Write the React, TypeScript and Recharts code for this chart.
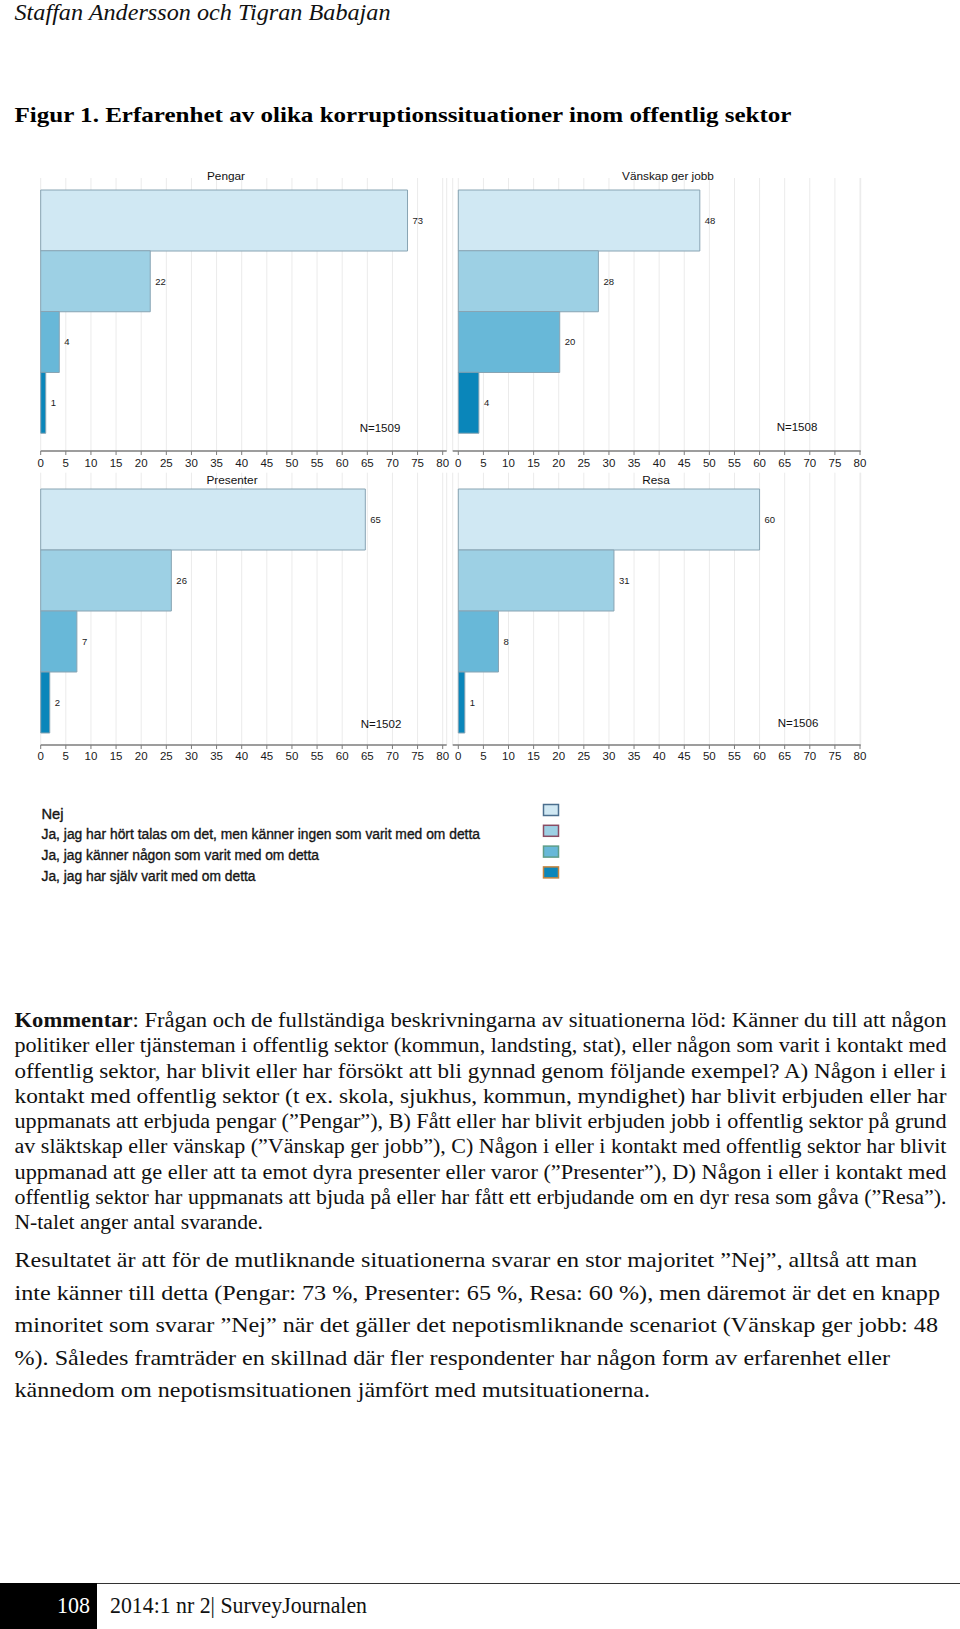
import React from 'react';
import { BarChart, Bar, XAxis, YAxis, CartesianGrid, Cell, LabelList } from 'recharts';

// answer categories (same order in every panel)
const categories = [
  'Nej',
  'Ja, jag har hört talas om det, men känner ingen som varit med om detta',
  'Ja, jag känner någon som varit med om detta',
  'Ja, jag har själv varit med om detta',
];

// percent per category
const pengar = [73.0, 21.8, 3.7, 1.0];
const vanskap = [48.1, 27.9, 20.2, 4.1];
const presenter = [64.6, 26.0, 7.2, 1.8];
const resa = [60.0, 31.0, 8.0, 1.3];

const panelTitles = ['Pengar', 'Vänskap ger jobb', 'Presenter', 'Resa'];
const panelN = [1509, 1508, 1502, 1506];

const xTicks = [0, 5, 10, 15, 20, 25, 30, 35, 40, 45, 50, 55, 60, 65, 70, 75, 80];

const barColors = ['#d0e8f3', '#9dd0e4', '#68b8d8', '#0a86ba'];
const legendBorders = ['#4b6f8e', '#8a4c63', '#5f9d88', '#c5853f'];

const serif = "'Liberation Serif', 'Times New Roman', Times, serif";
const sans = "'Liberation Sans', Arial, Helvetica, sans-serif";

type PanelLayout = {
  left: number;
  top: number;
  margin: { top: number; right: number; bottom: number; left: number };
  xh: number;
  tm: number;
  xPad: { left: number; right: number };
  yPad: { top: number; bottom: number };
  titleX: number;
  titleY: number;
  nX: number;
  nY: number;
};

const leftM = { top: 18, right: 13.3, bottom: 0, left: 40.7 };
const rightM = { top: 18, right: 19.3, bottom: 0, left: 32.7 };

const layouts: PanelLayout[] = [
  { left: 0, top: 160, margin: leftM, xh: 29, tm: 4, xPad: { left: 0, right: 4 }, yPad: { top: 12, bottom: 18 }, titleX: 226, titleY: 176, nX: 380, nY: 428 },
  { left: 420, top: 160, margin: rightM, xh: 29, tm: 4, xPad: { left: 5.6, right: 0.7 }, yPad: { top: 12, bottom: 18 }, titleX: 668, titleY: 176, nX: 797, nY: 427 },
  { left: 0, top: 460, margin: { ...leftM, top: 12.7 }, xh: 35, tm: 3, xPad: { left: 0, right: 4 }, yPad: { top: 16.3, bottom: 12 }, titleX: 232, titleY: 480, nX: 381, nY: 724 },
  { left: 420, top: 460, margin: { ...rightM, top: 12.7 }, xh: 35, tm: 3, xPad: { left: 5.6, right: 0.7 }, yPad: { top: 16.3, bottom: 12 }, titleX: 656, titleY: 480, nX: 798, nY: 723 },
];

const Panel = ({ values, title, n, lay }: { values: number[]; title: string; n: number; lay: PanelLayout }) => {
  const data = categories.map((name, i) => ({ name, value: values[i] }));
  return (
    <>
      <div style={{ position: 'absolute', left: lay.left, top: lay.top }}>
        <BarChart width={460} height={320} layout="vertical" data={data} margin={lay.margin} barCategoryGap={0}>
          <CartesianGrid horizontal={false} stroke="#ebebeb" />
          <XAxis
            type="number"
            domain={[0, 80]}
            ticks={xTicks}
            interval={0}
            padding={lay.xPad}
            height={lay.xh}
            tickSize={4}
            tickMargin={lay.tm}
            axisLine={{ stroke: '#7c7c7c', strokeWidth: 1.5 }}
            tickLine={{ stroke: '#7c7c7c' }}
            tick={{ fontSize: 11.5, fill: '#1a1a1a' }}
          />
          <YAxis
            type="category"
            dataKey="name"
            width={0}
            tick={false}
            tickLine={false}
            padding={lay.yPad}
            axisLine={{ stroke: '#8a8a8a', strokeWidth: 1.5 }}
          />
          <Bar dataKey="value" isAnimationActive={false} stroke="#88a4b3" strokeWidth={1}>
            {data.map((d, i) => (
              <Cell key={d.name} fill={barColors[i]} />
            ))}
            <LabelList
              dataKey="value"
              position="right"
              offset={5}
              fontSize={9.5}
              fill="#1a1a1a"
              formatter={(v: any) => Math.round(Number(v))}
            />
          </Bar>
        </BarChart>
      </div>
      <div style={{ position: 'absolute', left: lay.titleX, top: lay.titleY, transform: 'translate(-50%, -50%)', fontSize: 11.8, color: '#111', whiteSpace: 'nowrap' }}>
        {title}
      </div>
      <div style={{ position: 'absolute', left: lay.nX, top: lay.nY, transform: 'translate(-50%, -50%)', fontSize: 11.5, color: '#111', whiteSpace: 'nowrap' }}>
        N={n}
      </div>
    </>
  );
};

const kommentar = [
  'politiker eller tjänsteman i offentlig sektor (kommun, landsting, stat), eller någon som varit i kontakt med',
  'offentlig sektor, har blivit eller har försökt att bli gynnad genom följande exempel? A) Någon i eller i',
  'kontakt med offentlig sektor (t ex. skola, sjukhus, kommun, myndighet) har blivit erbjuden eller har',
  'uppmanats att erbjuda pengar (”Pengar”), B) Fått eller har blivit erbjuden jobb i offentlig sektor på grund',
  'av släktskap eller vänskap (”Vänskap ger jobb”), C) Någon i eller i kontakt med offentlig sektor har blivit',
  'uppmanad att ge eller att ta emot dyra presenter eller varor (”Presenter”), D) Någon i eller i kontakt med',
  'offentlig sektor har uppmanats att bjuda på eller har fått ett erbjudande om en dyr resa som gåva (”Resa”).',
];

const resultat = [
  { t: 'Resultatet är att för de mutliknande situationerna svarar en stor majoritet ”Nej”, alltså att man', w: 902.5 },
  { t: 'inte känner till detta (Pengar: 73 %, Presenter: 65 %, Resa: 60 %), men däremot är det en knapp', w: 925.5 },
  { t: 'minoritet som svarar ”Nej” när det gäller det nepotismliknande scenariot (Vänskap ger jobb: 48', w: 923.5 },
  { t: '%). Således framträder en skillnad där fler respondenter har någon form av erfarenhet eller', w: 875.5 },
  { t: 'kännedom om nepotismsituationen jämfört med mutsituationerna.', w: 635.5 },
];

const legendWidths = [22, 438.5, 277.5, 214];

const serifStyle = { fontFamily: serif };

export default function App() {
  const series = [pengar, vanskap, presenter, resa];
  return (
    <div style={{ position: 'absolute', left: 0, top: 0, width: 960, height: 1629, background: '#fff', overflow: 'hidden', fontFamily: sans }}>
      <svg width={960} height={1629} style={{ position: 'absolute', left: 0, top: 0 }}>
        <text x={14.5} y={19.5} style={serifStyle} fontStyle="italic" fontSize={22.5} fill="#111" textLength={376} lengthAdjust="spacingAndGlyphs">
          Staffan Andersson och Tigran Babajan
        </text>
        <text x={14.5} y={121.5} style={serifStyle} fontWeight="bold" fontSize={22} fill="#000" textLength={777} lengthAdjust="spacingAndGlyphs">
          Figur 1. Erfarenhet av olika korruptionssituationer inom offentlig sektor
        </text>

        {categories.map((c, i) => (
          <g key={c}>
            <text x={41.5} y={818.5 + i * 20.8} style={{ fontFamily: sans }} fontSize={14} fill="#151515" stroke="#151515" strokeWidth={0.35} textLength={legendWidths[i]} lengthAdjust="spacingAndGlyphs">
              {c}
            </text>
            <rect x={543.5} y={804.5 + i * 20.8} width={15} height={11} fill={barColors[i]} stroke={legendBorders[i]} strokeWidth={1.5} />
          </g>
        ))}

        <text x={14.5} y={1027} style={serifStyle} fontSize={20} fill="#111" textLength={932} lengthAdjust="spacingAndGlyphs">
          <tspan fontWeight="bold">Kommentar</tspan>: Frågan och de fullständiga beskrivningarna av situationerna löd: Känner du till att någon
        </text>
        {kommentar.map((line, i) => (
          <text key={i} x={14.5} y={1052.25 + i * 25.25} style={serifStyle} fontSize={20} fill="#111" textLength={932} lengthAdjust="spacingAndGlyphs">
            {line}
          </text>
        ))}
        <text x={14.5} y={1229} style={serifStyle} fontSize={20} fill="#111" textLength={248.5} lengthAdjust="spacingAndGlyphs">
          N-talet anger antal svarande.
        </text>

        {resultat.map((r, i) => (
          <text key={i} x={14.5} y={1267 + i * 32.5} style={serifStyle} fontSize={22} fill="#111" textLength={r.w} lengthAdjust="spacingAndGlyphs">
            {r.t}
          </text>
        ))}

        <rect x={0} y={1583} width={97} height={46} fill="#000" />
        <line x1={97} y1={1583.5} x2={960} y2={1583.5} stroke="#333" strokeWidth={1.2} />
        <text x={90} y={1613} textAnchor="end" style={serifStyle} fontSize={24} fill="#fff" textLength={33} lengthAdjust="spacingAndGlyphs">
          108
        </text>
        <text x={110} y={1613} style={serifStyle} fontSize={24} fill="#111" textLength={257} lengthAdjust="spacingAndGlyphs">
          2014:1 nr 2| SurveyJournalen
        </text>
      </svg>

      {series.map((vals, i) => (
        <Panel key={panelTitles[i]} values={vals} title={panelTitles[i]} n={panelN[i]} lay={layouts[i]} />
      ))}
    </div>
  );
}
